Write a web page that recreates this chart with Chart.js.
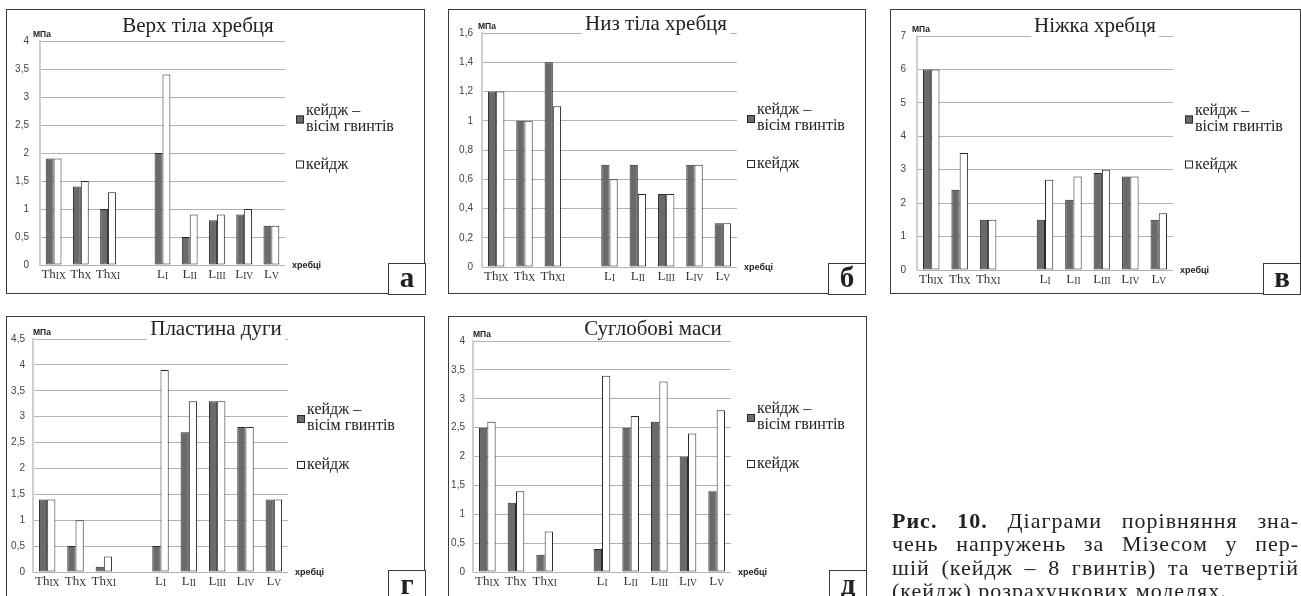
<!DOCTYPE html>
<html>
<head>
<meta charset="utf-8">
<script src="https://cdn.jsdelivr.net/npm/chart.js@4.4.1/dist/chart.umd.min.js"></script>
<style>
  html, body { margin: 0; padding: 0; background: #fff; }
  body { width: 1301px; height: 596px; overflow: hidden; position: relative; }
  .panel { position: absolute; box-sizing: border-box; border: 1px solid #3a3a3a; background: #fff; }
  .panel canvas { position: absolute; left: -1px; top: -1px; }
  .letter {
    position: absolute; box-sizing: border-box; width: 38px; height: 32px;
    border: 1px solid #3a3a3a; background: #fff;
    font: bold 29px "Liberation Serif", "DejaVu Serif", serif; color: #222;
    text-align: center; line-height: 26px;
  }
  .caption {
    position: absolute; left: 892px; top: 509px; width: 407px;
    font: 22px "Liberation Serif", "DejaVu Serif", serif; color: #222; line-height: 23.3px;
    letter-spacing: 1px;
  }
  .caption div { white-space: nowrap; }
  .caption .j { display: flex; justify-content: space-between; }
</style>
</head>
<body>

<div class="panel" id="p0" style="left:6px;top:9px;width:419px;height:285px"><canvas id="c0" width="419" height="285"></canvas><div class="letter" style="left:381px;top:253px">а</div></div>
<div class="panel" id="p1" style="left:448px;top:9px;width:418px;height:285px"><canvas id="c1" width="418" height="285"></canvas><div class="letter" style="left:379px;top:253px">б</div></div>
<div class="panel" id="p2" style="left:890px;top:9px;width:411px;height:285px"><canvas id="c2" width="411" height="285"></canvas><div class="letter" style="left:372px;top:253px">в</div></div>
<div class="panel" id="p3" style="left:6px;top:316px;width:419px;height:300px"><canvas id="c3" width="419" height="300"></canvas><div class="letter" style="left:381px;top:253px;height:40px">г</div></div>
<div class="panel" id="p4" style="left:448px;top:316px;width:419px;height:300px"><canvas id="c4" width="419" height="300"></canvas><div class="letter" style="left:380px;top:253px;height:40px">д</div></div>

<div class="caption">
  <div class="j"><b>Рис.</b><b>10.</b><span>Діаграми</span><span>порівняння</span><span>зна-</span></div>
  <div class="j"><span>чень</span><span>напружень</span><span>за</span><span>Мізесом</span><span>у</span><span>пер-</span></div>
  <div class="j"><span>шій</span><span>(кейдж</span><span>–</span><span>8</span><span>гвинтів)</span><span>та</span><span>четвертій</span></div>
  <div>(кейдж) розрахункових моделях.</div>
</div>

<script>
// categories: main letters + subscript, empty slot between thoracic and lumbar
const catMain = ['Th', 'Th', 'Th', '', 'L', 'L', 'L', 'L', 'L'];
const catSub  = ['IX', 'X', 'XI', '', 'I', 'II', 'III', 'IV', 'V'];

const seriesNames = ['кейдж –\nвісім гвинтів', 'кейдж'];

// а - Верх тіла хребця
const topBodyScrews = [1.9, 1.4, 1.0, null, 2.0, 0.5, 0.8, 0.9, 0.7];
const topBodyCage   = [1.9, 1.5, 1.3, null, 3.4, 0.9, 0.9, 1.0, 0.7];
// б - Низ тіла хребця
const lowBodyScrews = [1.2, 1.0, 1.4, null, 0.7, 0.7, 0.5, 0.7, 0.3];
const lowBodyCage   = [1.2, 1.0, 1.1, null, 0.6, 0.5, 0.5, 0.7, 0.3];
// в - Ніжка хребця
const pedicleScrews = [6.0, 2.4, 1.5, null, 1.5, 2.1, 2.9, 2.8, 1.5];
const pedicleCage   = [6.0, 3.5, 1.5, null, 2.7, 2.8, 3.0, 2.8, 1.7];
// г - Пластина дуги
const laminaScrews  = [1.4, 0.5, 0.1, null, 0.5, 2.7, 3.3, 2.8, 1.4];
const laminaCage    = [1.4, 1.0, 0.3, null, 3.9, 3.3, 3.3, 2.8, 1.4];
// д - Суглобові маси
const facetScrews   = [2.5, 1.2, 0.3, null, 0.4, 2.5, 2.6, 2.0, 1.4];
const facetCage     = [2.6, 1.4, 0.7, null, 3.4, 2.7, 3.3, 2.4, 2.8];

const titles = ['Верх тіла хребця', 'Низ тіла хребця', 'Ніжка хребця', 'Пластина дуги', 'Суглобові маси'];
const yMax  = [4, 1.6, 7, 4.5, 4];
const yStep = [0.5, 0.2, 1, 0.5, 0.5];

// layout of each panel (canvas-relative pixels)
const panels = [
  { dark: topBodyScrews, light: topBodyCage, area: { l: 34, t: 32, r: 279, b: 256 }, tickPad: 11, titleX: 192, titleY: 23, legX: 290, legY: [110.5, 155.5], unitDx: -7 },
  { dark: lowBodyScrews, light: lowBodyCage, area: { l: 34, t: 24, r: 289, b: 258 }, tickPad: 9,  titleX: 208, titleY: 21, legX: 299, legY: [110, 155], unitDx: -4 },
  { dark: pedicleScrews, light: pedicleCage, area: { l: 27, t: 27, r: 283, b: 261 }, tickPad: 11, titleX: 205, titleY: 23, legX: 295, legY: [110.5, 155.5], unitDx: -5 },
  { dark: laminaScrews,  light: laminaCage,  area: { l: 27, t: 23, r: 282, b: 256 }, tickPad: 8,  titleX: 210, titleY: 19, legX: 291, legY: [103, 149], unitDx: 0 },
  { dark: facetScrews,   light: facetCage,   area: { l: 25, t: 25, r: 283, b: 256 }, tickPad: 8,  titleX: 205, titleY: 19, legX: 299, legY: [102, 148], unitDx: 0 }
];

const DARK = '#6a6a6a';
const EDGE = '#2a2a2a';
const SERIF = '"Liberation Serif", "DejaVu Serif", serif';
const SANS = '"Liberation Sans", Arial, sans-serif';

const extrasPlugin = {
  id: 'extras',
  afterDraw(chart, args, o) {
    const ctx = chart.ctx;
    const area = chart.chartArea;
    const xs = chart.scales.x;
    ctx.save();

    // category labels with subscripts
    ctx.fillStyle = '#333';
    ctx.textBaseline = 'alphabetic';
    ctx.textAlign = 'left';
    catMain.forEach((m, i) => {
      if (!m) return;
      const cx = xs.getPixelForValue(i);
      ctx.font = '13px ' + SERIF;
      const wm = ctx.measureText(m).width;
      ctx.font = '9.5px ' + SERIF;
      const ws = ctx.measureText(catSub[i]).width;
      const x0 = cx - (wm + ws) / 2;
      ctx.font = '13px ' + SERIF;
      ctx.fillText(m, x0, area.bottom + 13);
      ctx.font = '9.5px ' + SERIF;
      ctx.fillText(catSub[i], x0 + wm, area.bottom + 14);
    });

    // title on white background
    ctx.font = '21px ' + SERIF;
    const tw = ctx.measureText(o.title).width;
    ctx.fillStyle = '#fff';
    ctx.fillRect(o.titleX - tw / 2 - 3, o.titleY - 18, tw + 6, 23);
    ctx.fillStyle = '#222';
    ctx.textAlign = 'center';
    ctx.fillText(o.title, o.titleX, o.titleY);

    // axis names
    ctx.textAlign = 'left';
    ctx.textBaseline = 'middle';
    ctx.font = 'bold 8.5px ' + SANS;
    ctx.fillText('МПа', area.left + o.unitDx, area.top - 6);
    ctx.font = 'bold 9px ' + SANS;
    ctx.fillText('хребці', area.right + 7, area.bottom + 1);

    // legend
    const sq = 8;
    chart.data.datasets.forEach((ds, k) => {
      const cy = o.legY[k];
      ctx.fillStyle = ds.backgroundColor;
      ctx.fillRect(o.legX, cy - sq / 2, sq, sq);
      ctx.strokeStyle = EDGE;
      ctx.lineWidth = 1;
      ctx.strokeRect(o.legX + 0.5, cy - sq / 2 + 0.5, sq - 1, sq - 1);
      ctx.fillStyle = '#222';
      ctx.font = '16px ' + SERIF;
      ctx.textBaseline = 'alphabetic';
      const lines = ds.label.split('\n');
      if (lines.length === 1) {
        ctx.fillText(lines[0], o.legX + sq + 2, cy + 4);
      } else {
        ctx.fillText(lines[0], o.legX + sq + 2, cy - 5);
        ctx.fillText(lines[1], o.legX + sq + 2, cy + 11);
      }
    });
    ctx.restore();
  }
};

function fmt(v) {
  return String(Number(v.toFixed(1))).replace('.', ',');
}

panels.forEach((p, i) => {
  const canvas = document.getElementById('c' + i);
  const W = canvas.width, H = canvas.height;
  new Chart(canvas, {
    type: 'bar',
    data: {
      labels: catMain.map((m, k) => m + catSub[k]),
      datasets: [
        { label: seriesNames[0], data: p.dark, backgroundColor: DARK, borderColor: EDGE, borderWidth: 1, borderSkipped: false },
        { label: seriesNames[1], data: p.light, backgroundColor: '#ffffff', borderColor: EDGE, borderWidth: 1, borderSkipped: false }
      ]
    },
    options: {
      responsive: false,
      animation: false,
      devicePixelRatio: 1,
      layout: { padding: { left: 0, top: p.area.t, right: W - p.area.r, bottom: H - p.area.b } },
      datasets: { bar: { categoryPercentage: 0.58, barPercentage: 1.0 } },
      plugins: {
        legend: { display: false },
        title: { display: false },
        tooltip: { enabled: false },
        extras: { title: titles[i], titleX: p.titleX, titleY: p.titleY, legX: p.legX, legY: p.legY, unitDx: p.unitDx }
      },
      scales: {
        x: {
          grid: { display: false },
          border: { display: false },
          ticks: { display: false },
          afterFit(scale) { scale.height = 0; }
        },
        y: {
          min: 0,
          max: yMax[i],
          afterFit(scale) { scale.width = p.area.l; },
          ticks: {
            stepSize: yStep[i],
            padding: p.tickPad,
            color: '#444',
            font: { family: SANS, size: 10 },
            callback: v => fmt(v)
          },
          grid: { color: '#b2b2b2', lineWidth: 1, drawTicks: false },
          border: { color: '#cfcfcf', width: 2 }
        }
      }
    },
    plugins: [extrasPlugin]
  });
});
</script>
</body>
</html>
